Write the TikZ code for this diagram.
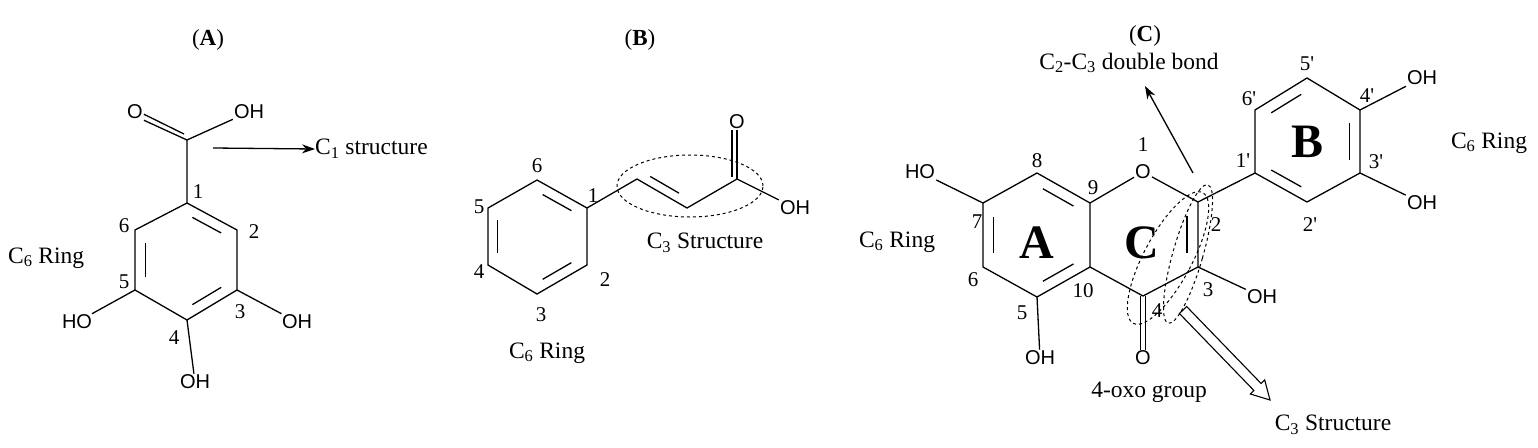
\documentclass[tikz,border=0pt]{standalone}
\usepackage{fontspec}
\setmainfont{Liberation Serif}
\setsansfont{Liberation Sans}
\usetikzlibrary{arrows.meta,calc}
\tikzset{
    bond/.style={line width=1.3pt},
    atom/.style={inner sep=1pt,font=\sffamily\fontsize{20}{20}\selectfont},
    num/.style={inner sep=0pt,font=\fontsize{21}{21}\selectfont},
    txt/.style={inner sep=0pt,font=\fontsize{23.5}{23.5}\selectfont},
    title/.style={inner sep=0pt,font=\fontsize{23}{23}\selectfont},
    ringname/.style={inner sep=0pt,font=\bfseries\fontsize{48}{48}\selectfont},
    arr/.style={-{Stealth[length=13pt,width=9pt]},line width=1.3pt},
    ring mark/.style={dashed,line width=1pt},
}
\newcommand{\dbl}[3]{\draw[bond] ($($(#1)!0.14!(#2)$)!0.2!(#3)$) -- ($($(#2)!0.14!(#1)$)!0.2!(#3)$);}
\newcommand{\pr}{\textquotesingle}
\begin{document}
\begin{tikzpicture}[x=1pt,y=-1pt]
\useasboundingbox (0,0) rectangle (1538,447);
% ---------- (A) ----------
\node[title] (tA) at (208,40) {(\textbf{A})};
\coordinate (a1) at (187,203); \coordinate (a2) at (237,230);
\coordinate (a3) at (237,290); \coordinate (a4) at (187,320);
\coordinate (a5) at (135,290); \coordinate (a6) at (135,230);
\coordinate (ac) at (187,140); \coordinate (actr) at (186,260);
\node[atom] (aO) at (135,112) {O};
\node[atom] (aOH) at (249,112) {OH};
\node[atom] (aOH3) at (297,322) {OH};
\node[atom] (aHO5) at (77,322) {HO};
\node[atom] (aOH4) at (195,382) {OH};
\draw[bond] (a1) -- (a2) -- (a3) -- (a4) -- (a5) -- (a6) -- cycle;
\dbl{a1}{a2}{actr} \dbl{a3}{a4}{actr} \dbl{a5}{a6}{actr}
\draw[bond] (a1) -- (ac) -- (aOH);
\draw[bond] (ac) -- (aO.south east);
\draw[bond] ($(ac)+(-3,-6)$) -- ($(aO.south east)+(0,-6)$);
\draw[bond] (a3) -- (aOH3); \draw[bond] (a5) -- (aHO5); \draw[bond] (a4) -- (aOH4);
\foreach \n/\p in {1/{198,192},2/{254,232},3/{240,312},4/{174,338},5/{124,282},6/{124,226}}
    \node[num] (an\n) at (\p) {\n};
\coordinate (aarr) at (213,148);
\node[txt,anchor=west] (aC1) at (315,149) {C\textsubscript{1} structure};
\draw[arr] (aarr) -- (aC1.west);
\node[txt,anchor=west] (aC6) at (8,258) {C\textsubscript{6} Ring};
% ---------- (B) ----------
\node[title] (tB) at (640,40) {(\textbf{B})};
\coordinate (b1) at (587,208); \coordinate (b2) at (587,265);
\coordinate (b3) at (537,294); \coordinate (b4) at (488,265);
\coordinate (b5) at (488,208); \coordinate (b6) at (537,180);
\coordinate (bctr) at (537,237);
\coordinate (ba) at (637,179); \coordinate (bb) at (687,208); \coordinate (bc) at (737,179);
\coordinate (bup) at (675,150);
\node[atom] (bO) at (737,122) {O};
\node[atom] (bOH) at (795,208) {OH};
\draw[bond] (b1) -- (b2) -- (b3) -- (b4) -- (b5) -- (b6) -- cycle;
\dbl{b6}{b1}{bctr} \dbl{b5}{b4}{bctr} \dbl{b3}{b2}{bctr}
\draw[bond] (b1) -- (ba) -- (bb) -- (bc) -- (bOH);
\dbl{ba}{bb}{bup}
\draw[bond] (bc) -- (bO); \draw[bond] ($(bc)+(-5,-2)$) -- ($(bO.south)+(-5,0)$);
\draw[ring mark] (690,186) ellipse [x radius=73pt, y radius=31pt];
\foreach \n/\p in {1/{593,196},2/{605,280},3/{541,315},4/{479,272},5/{479,207},6/{537,166}}
    \node[num] (bn\n) at (\p) {\n};
\node[txt] (bC3) at (705,243) {C\textsubscript{3} Structure};
\node[txt] (bC6) at (547,353) {C\textsubscript{6} Ring};
% ---------- (C) ----------
\node[title] (tC) at (1145,36) {(\textbf{C})};
\coordinate (c8) at (1037,173); \coordinate (c9) at (1090,203);
\coordinate (c10) at (1090,267); \coordinate (c5) at (1037,297);
\coordinate (c6) at (983,267); \coordinate (c7) at (983,203);
\coordinate (cA) at (1037,235);
\coordinate (c2) at (1198,202); \coordinate (c3) at (1198,267);
\coordinate (c4) at (1143,296); \coordinate (cC) at (1143,235);
\coordinate (c1p) at (1255,173); \coordinate (c2p) at (1307,202);
\coordinate (c3p) at (1360,173); \coordinate (c4p) at (1360,110);
\coordinate (c5p) at (1307,78); \coordinate (c6p) at (1255,110);
\coordinate (cB) at (1307,142);
\node[atom] (cO1) at (1143,172) {O};
\node[atom] (cO4) at (1143,358) {O};
\node[atom] (cOH5) at (1040,358) {OH};
\node[atom] (cOH3) at (1262,297) {OH};
\node[atom] (cHO7) at (920,172) {HO};
\node[atom] (cOH4p) at (1422,78) {OH};
\node[atom] (cOH3p) at (1422,203) {OH};
\draw[bond] (c8) -- (c9) -- (c10) -- (c5) -- (c6) -- (c7) -- cycle;
\draw[bond] (c9) -- (cO1) -- (c2) -- (c3) -- (c4) -- (c10);
\draw[bond] (c1p) -- (c2p) -- (c3p) -- (c4p) -- (c5p) -- (c6p) -- cycle;
\dbl{c8}{c9}{cA} \dbl{c7}{c6}{cA} \dbl{c5}{c10}{cA}
\dbl{c2}{c3}{cC}
\dbl{c6p}{c5p}{cB} \dbl{c4p}{c3p}{cB} \dbl{c1p}{c2p}{cB}
\draw[bond] (c2) -- (c1p);
\draw[bond] ($(c4)+(-2.5,0)$) -- ($(cO4.north)+(-2.5,0)$);
\draw[bond] ($(c4)+(2.5,0)$) -- ($(cO4.north)+(2.5,0)$);
\draw[bond] (c5) -- (cOH5); \draw[bond] (c3) -- (cOH3); \draw[bond] (c7) -- (cHO7);
\draw[bond] (c4p) -- (cOH4p); \draw[bond] (c3p) -- (cOH3p);
\foreach \n/\p in {1/{1143,145},8/{1037,161},9/{1093,188},7/{977,222},6/{973,280},
    10/{1083,291},5/{1022,313},4/{1157,311},3/{1208,290},2/{1216,225},
    1\pr/{1243,161},6\pr/{1249,99},5\pr/{1307,64},4\pr/{1367,96},3\pr/{1376,162},2\pr/{1310,225}}
    \node[num] at (\p) {\n};
\node[ringname] (rA) at (1037,243) {A};
\node[ringname] (rC) at (1142,243) {C};
\node[ringname] (rB) at (1307,142) {B};
\draw[ring mark,rotate around={-16:(1188,254)}] (1188,254) ellipse [x radius=15pt, y radius=72pt];
\draw[ring mark,rotate around={-28:(1168,258)}] (1168,258) ellipse [x radius=24pt, y radius=74pt];
\node[txt] (cdb) at (1129,63) {C\textsubscript{2}-C\textsubscript{3} double bond};
\coordinate (cdbs) at (1193,173); \coordinate (cdbe) at (1145,86);
\draw[arr] (cdbs) -- (cdbe);
\node[txt] (coxo) at (1149,392) {4-oxo group};
\node[txt] (cC3) at (1333,425) {C\textsubscript{3} Structure};
\node[txt] (cC6l) at (897,242) {C\textsubscript{6} Ring};
\node[txt] (cC6r) at (1489,143) {C\textsubscript{6} Ring};
% hollow arrow
\draw[line width=1.1pt,fill=white] (1186.6,306.5) -- (1261.1,383.5) -- (1264.7,380) -- (1270,400)
    -- (1250.3,394) -- (1253.9,390.5) -- (1179.4,313.5) -- cycle;
\end{tikzpicture}
\end{document}
